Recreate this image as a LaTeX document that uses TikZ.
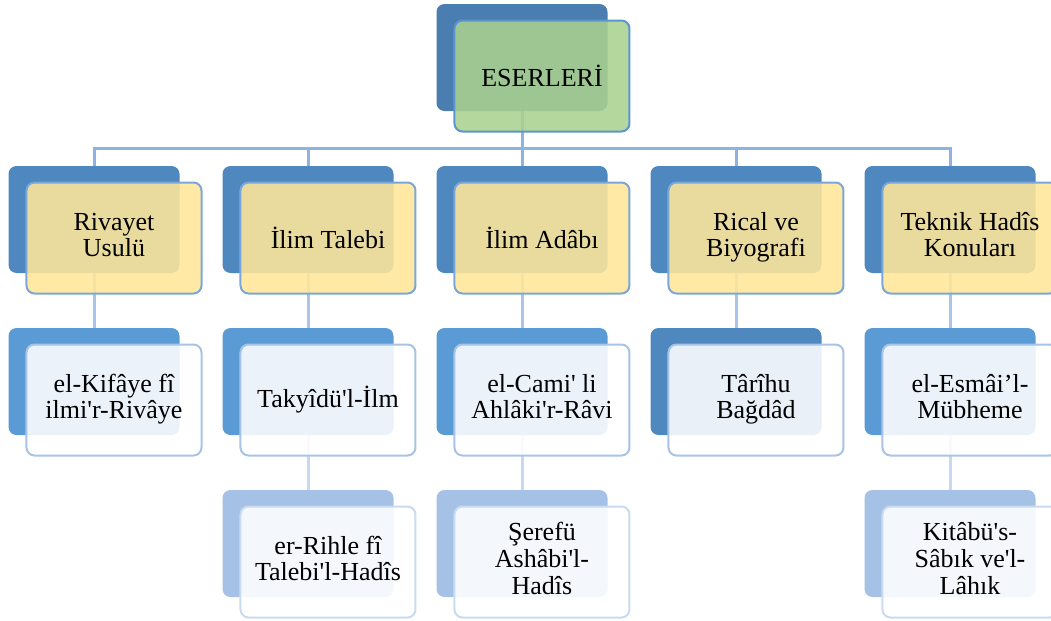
\documentclass[tikz,border=0pt]{standalone}
\usepackage{fontspec}
\setmainfont{Liberation Serif}[Ligatures=TeXOff]
\usetikzlibrary{matrix}

\definecolor{rootfill}{HTML}{A9D18E}
\definecolor{rootedge}{HTML}{5B95D2}
\definecolor{rootback}{HTML}{4A7EB1}
\definecolor{topicfill}{HTML}{FFE699}
\definecolor{topicedge}{HTML}{7AA7DB}
\definecolor{topicback}{HTML}{4F87BF}
\definecolor{bookedge}{HTML}{A7C4E7}
\definecolor{bookback}{HTML}{5B9BD5}
\definecolor{subedge}{HTML}{C9DBF1}
\definecolor{subback}{HTML}{A5C2E6}
\definecolor{wireA}{HTML}{8DB3E2}
\definecolor{wireB}{HTML}{A9C6EA}
\definecolor{wireC}{HTML}{C7D9F0}

% multi-line card text (a \\ straight in a matrix cell ends the row)
\newcommand\stacked[1]{\begin{tabular}{@{}c@{}}#1\end{tabular}}

\pgfdeclarelayer{wires}
\pgfdeclarelayer{backs}
\pgfsetlayers{wires,backs,main}

\begin{document}
\begin{tikzpicture}[x=0.75pt, y=0.75pt,
  front/.style={draw, rounded corners=6pt, line width=1.5pt, fill opacity=0.88,
    text opacity=1, minimum width=131.25pt, minimum height=83.25pt,
    outer sep=0pt, inner sep=0pt,
    font=\fontsize{19.5}{20}\selectfont},
  back/.style={rounded corners=6pt, minimum width=128.25pt,
    minimum height=80.25pt, outer sep=0pt, inner sep=0pt},
  link/.style={line width=2.25pt}]
  \useasboundingbox (0,0) rectangle (1051,-621);

  \matrix (m) at (542,-319)
    [matrix of nodes,
     inner sep=0pt, outer sep=0pt,
     nodes={front, anchor=center},
     column sep={160.5pt,between origins},
     row sep={121.5pt,between origins},
     row 1/.style={nodes={fill=rootfill, draw=rootedge}},
     row 2/.style={nodes={fill=topicfill, draw=topicedge}},
     row 3/.style={nodes={fill=white, draw=bookedge}},
     row 4/.style={nodes={fill=white, draw=subedge}}]
  {
    & & ESERLERİ & & \\
    \stacked{Rivayet\\Usulü} & İlim Talebi & İlim Adâbı & \stacked{Rical ve\\Biyografi} & \stacked{Teknik Hadîs\\Konuları} \\
    \stacked{el-Kifâye fî\\ilmi'r-Rivâye} & Takyîdü'l-İlm & \stacked{el-Cami' li\\Ahlâki'r-Râvi} & \stacked{Târîhu\\Bağdâd} & \stacked{el-Esmâi’l-\\Mübheme} \\
    & \stacked{er-Rihle fî\\Talebi'l-Hadîs} & \stacked{Şerefü\\Ashâbi'l-\\Hadîs} & & \stacked{Kitâbü's-\\Sâbık ve'l-\\Lâhık} \\
  };

  % shadow boxes behind the cards
  \begin{pgfonlayer}{backs}
    \foreach \r/\c/\tone in {1/3/rootback, 2/1/topicback, 2/2/topicback,
        2/3/topicback, 2/4/topicback, 2/5/topicback, 3/1/bookback,
        3/2/bookback, 3/3/bookback, 3/4/topicback, 3/5/bookback,
        4/2/subback, 4/3/subback, 4/5/subback}
      \node [back, fill=\tone] (b-\r-\c) at ([xshift=-15pt, yshift=13.875pt]m-\r-\c.center) {};
  \end{pgfonlayer}

  \begin{pgfonlayer}{wires}
    \coordinate (bus) at (0,-148);
    \foreach \c in {1,...,5}
      \draw [link, wireA] (b-1-3.south) |- (bus -| b-2-\c.north) -- (b-2-\c.north);
    \foreach \c in {1,...,5}
      \draw [link, wireB] (b-2-\c.south) -- (b-3-\c.north);
    \foreach \c in {2,3,5}
      \draw [link, wireC] (b-3-\c.south) -- (b-4-\c.north);
  \end{pgfonlayer}
\end{tikzpicture}
\end{document}
